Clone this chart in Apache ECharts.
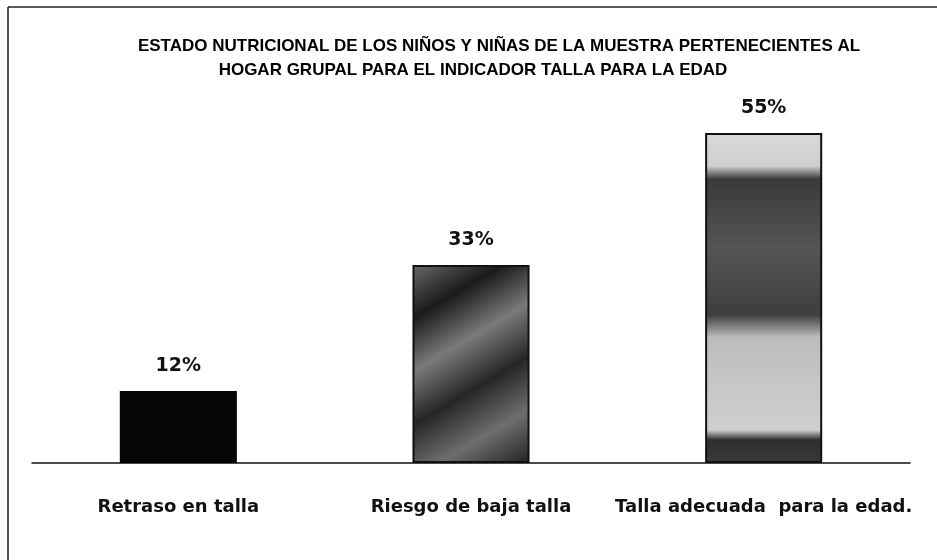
<!DOCTYPE html>
<html>
<head>
<meta charset="utf-8">
<script src="https://cdn.jsdelivr.net/npm/echarts@6/dist/echarts.min.js"></script>
<style>
  html, body { margin: 0; padding: 0; background: #fff; }
  #chart { width: 937px; height: 560px; }
</style>
</head>
<body>
<div id="chart"></div>
<script>
const categories = ["Retraso en talla", "Riesgo de baja talla", "Talla adecuada  para la edad."];
const values = [12, 33, 55];
const titleLines = [
  "ESTADO NUTRICIONAL DE LOS NIÑOS Y NIÑAS DE LA MUESTRA PERTENECIENTES AL",
  "HOGAR GRUPAL PARA EL INDICADOR TALLA PARA LA EDAD"
];

// rellenos que imitan la textura escaneada de cada barra
const fills = [
  "#050505",
  {
    type: "linear", x: 0, y: 0, x2: 1, y2: 1,
    colorStops: [
      { offset: 0, color: "#6a6a6a" },
      { offset: 0.2, color: "#1a1a1a" },
      { offset: 0.4, color: "#7a7a7a" },
      { offset: 0.6, color: "#262626" },
      { offset: 0.8, color: "#6e6e6e" },
      { offset: 1, color: "#222" }
    ]
  },
  {
    type: "linear", x: 0, y: 0, x2: 0, y2: 1,
    colorStops: [
      { offset: 0, color: "#d8d8d8" },
      { offset: 0.1, color: "#cfcfcf" },
      { offset: 0.14, color: "#3a3a3a" },
      { offset: 0.35, color: "#555" },
      { offset: 0.55, color: "#3e3e3e" },
      { offset: 0.62, color: "#bdbdbd" },
      { offset: 0.9, color: "#cfcfcf" },
      { offset: 0.93, color: "#2e2e2e" },
      { offset: 1, color: "#3a3a3a" }
    ]
  }
];

const titleStyle = { fontFamily: "Liberation Sans", fontWeight: "bold", fontSize: 17, color: "#000" };

const chart = echarts.init(document.getElementById("chart"));
chart.setOption({
  animation: false,
  title: [
    { text: titleLines[0], left: 494, top: 33, textAlign: "center", textStyle: titleStyle },
    { text: titleLines[1], left: 468, top: 57, textAlign: "center", textStyle: titleStyle }
  ],
  grid: { left: 32, right: 27, top: 103, bottom: 97 },
  xAxis: {
    type: "category",
    data: categories,
    axisLine: { lineStyle: { color: "#111", width: 1.5 } },
    axisTick: { show: false },
    axisLabel: {
      interval: 0,
      margin: 35,
      fontFamily: "DejaVu Sans",
      fontWeight: "bold",
      fontSize: 18,
      color: "#111"
    }
  },
  yAxis: { type: "value", min: 0, max: 60, show: false, splitLine: { show: false } },
  series: [
    {
      type: "bar",
      barWidth: "40%",
      data: values.map((v, i) => ({
        value: v,
        itemStyle: { color: fills[i], borderColor: "#111", borderWidth: i === 0 ? 0 : 2 }
      })),
      label: {
        show: true,
        position: "top",
        distance: 15,
        formatter: "{c}%",
        fontFamily: "DejaVu Sans",
        fontWeight: "bold",
        fontSize: 19,
        color: "#111"
      }
    }
  ],
  graphic: [
    { type: "line", shape: { x1: 8, y1: 7, x2: 937, y2: 7 }, style: { stroke: "#222", lineWidth: 1.5 } },
    { type: "line", shape: { x1: 8, y1: 7, x2: 8, y2: 560 }, style: { stroke: "#222", lineWidth: 1.5 } }
  ]
});
</script>
</body>
</html>
